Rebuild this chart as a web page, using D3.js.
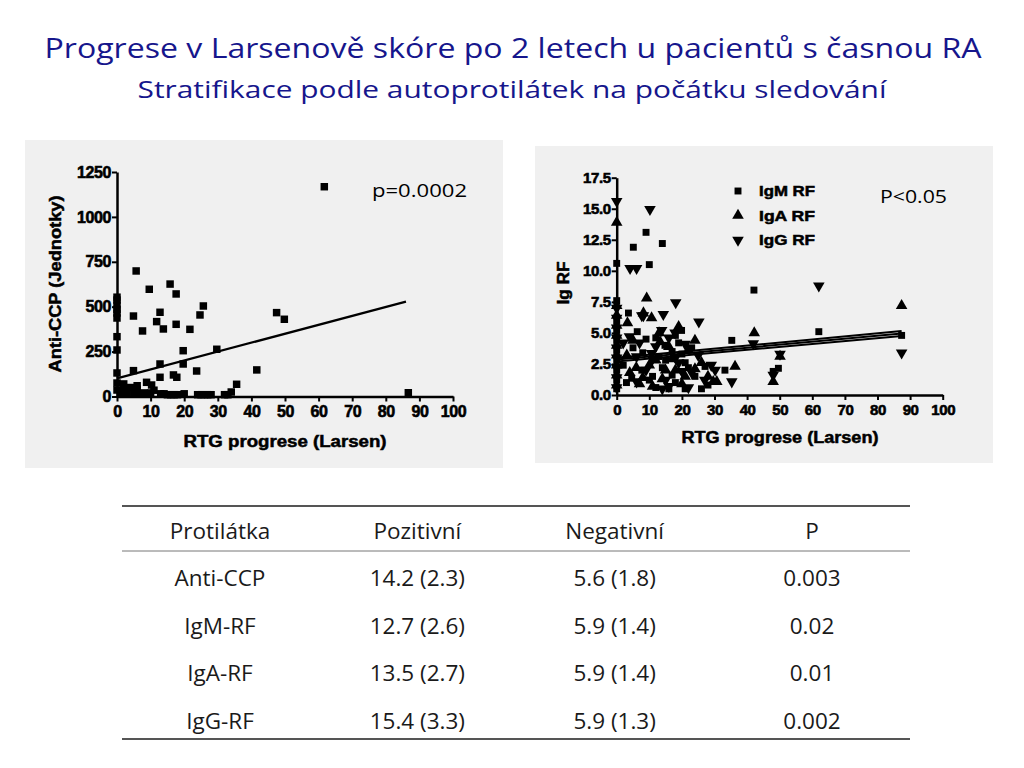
<!DOCTYPE html>
<html>
<head>
<meta charset="utf-8">
<script src="https://cdn.jsdelivr.net/npm/d3@7"></script>
<style>
  body { margin: 0; background: #fff; }
  svg text { font-family: "Liberation Sans", Arial, sans-serif; }
  .slide-text { font-family: "Open Sans", sans-serif; }
  .axis text { font-weight: bold; fill: #000; stroke: #000; stroke-width: 0.6; }
  .axis path, .axis line { stroke: #000; }
  .heavy { font-weight: bold; stroke: #000; stroke-width: 0.5; }
</style>
</head>
<body>
<svg id="chart" width="1024" height="768"></svg>
<script>
// titles
const titleMain = "Progrese v Larsenově skóre po 2 letech u pacientů s časnou RA";
const titleSub = "Stratifikace podle autoprotilátek na počátku sledování";

// left chart: Anti-CCP vs RTG progrese
const ccpPoints = [
  [0, 553], [0, 537], [0, 509], [0, 485], [0, 465], [0, 437], [0, 333], [0, 259], [0, 131], [0, 75], [0, 36],
  [5.7, 699], [9.6, 597], [15.8, 626], [17.6, 571], [25.7, 504], [24.7, 454], [4.9, 448], [12.8, 469],
  [11.8, 417], [13.8, 376], [7.6, 365], [17.6, 402], [21.7, 374], [19.7, 255], [29.7, 263], [4.9, 144],
  [12.8, 181], [19.7, 181], [12.8, 107], [16.8, 120], [17.8, 107], [23.7, 142], [8.8, 79], [10.3, 64],
  [35.6, 68], [41.6, 148], [47.5, 467], [49.8, 430], [61.7, 1168], [86.7, 21],
  [1, 20], [2, 45], [3, 20], [4, 50], [5, 20], [6, 40], [7, 15], [8, 20], [10, 20], [11, 35], [13, 15],
  [14, 15], [15, 10], [16, 10], [17, 10], [18, 10], [20, 15], [24, 10], [25, 10], [26, 10], [27, 10],
  [28, 10], [32, 10], [33, 10], [34, 25], [2, 70], [6, 60]
];
const ccpFit = [[0, 101], [86, 528]];
const ccpTicksX = [0, 10, 20, 30, 40, 50, 60, 70, 80, 90, 100];
const ccpTicksY = [0, 250, 500, 750, 1000, 1250];
const ccpLabelP = "p=0.0002";

// right chart: Ig RF vs RTG progrese
const igmPoints = [
  [0, 0.5], [0, 1.2], [0, 2], [0, 2.8], [0, 3.6], [0, 4.4], [0, 5.2], [0, 6], [0, 7.6], [0, 10.6],
  [9, 13.1], [5.1, 11.9], [14, 12.2], [10, 10.5], [42.1, 8.45], [3.6, 6.6], [6.3, 5.1], [7.7, 2.0],
  [4.6, 1.35], [19.9, 5.2], [35.3, 4.4], [14.8, 4.0], [27.1, 2.3], [33.2, 2.0], [49.6, 2.15], [48, 1.9],
  [62, 5.1], [87.4, 4.8], [2, 2.4], [3, 1.0], [11, 1.5], [12, 0.6], [15, 2.8], [16, 0.5], [18, 1.0],
  [20, 3.3], [21, 0.5], [22, 2.2], [24, 1.5], [19, 4.2], [17, 3.5], [13, 3.1], [26, 0.5], [8, 3.4], [10, 1.2],
  [5, 3.8], [9, 4.5], [14, 2.2], [17, 1.6], [23, 3.8], [28, 0.8], [18, 4.8], [21, 2.6], [12, 4.6]
];
const igaPoints = [
  [0, 0.8], [0, 1.6], [0, 2.4], [0, 3.2], [0, 4.0], [0, 4.8], [0, 5.6], [0, 6.4], [0, 7.2], [0, 13.9],
  [9.2, 7.8], [10.7, 6.2], [8.2, 6.6], [3.3, 5.8], [3.1, 3.2], [24, 4.4], [42.2, 5.0], [13.3, 4.3],
  [36.3, 2.3], [29.6, 1.07], [30.7, 1.07], [48, 1.07], [50.1, 3.1], [87.4, 7.2], [6, 2.2], [12, 2.8],
  [14, 1.3], [18, 2.0], [20, 0.9], [22, 3.6], [16, 3.9], [26, 2.6], [11, 0.7], [4, 1.8], [28, 1.5],
  [7, 0.9], [19, 5.5], [15, 2.0], [5, 4.4], [10, 2.4], [17, 2.9], [21, 1.5], [24, 2.1], [13, 5.0], [8, 1.4]
];
const iggPoints = [
  [0, 0.6], [0, 1.4], [0, 2.2], [0, 3.0], [0, 3.8], [0, 4.6], [0, 5.4], [0, 6.2], [0, 7.0], [0, 15.6],
  [10.2, 14.95], [4.1, 10.2], [6.1, 10.2], [18.1, 7.45], [14.3, 6.5], [8.2, 6.4], [7.7, 6.4], [3.9, 4.7],
  [13.8, 5.2], [6.1, 3.1], [6.1, 1.07], [17.9, 5.0], [25.2, 5.9], [41.9, 4.15], [10.7, 3.36], [30.2, 2.0],
  [35.3, 1.07], [27, 1.2], [48, 1.6], [50.1, 3.3], [62, 8.8], [87.4, 3.4], [12, 3.9], [15, 1.2],
  [19, 2.6], [21, 4.1], [23, 1.8], [9, 2.0], [16, 0.7], [25, 3.2], [2, 4.2], [11, 2.9], [14, 0.5],
  [18, 3.0], [22, 0.6], [20, 1.9], [29, 2.4], [7, 4.2], [16, 4.6]
];
const igmFit = [[0, 2.85], [87.4, 4.95]];
const igaFit = [[0, 3.0], [87.4, 5.15]];
const iggFit = [[0, 2.7], [87.4, 4.75]];
const igTicksX = [0, 10, 20, 30, 40, 50, 60, 70, 80, 90, 100];
const igTicksY = [0, 2.5, 5, 7.5, 10, 12.5, 15, 17.5];
const igLegend = ["IgM RF", "IgA RF", "IgG RF"];
const igLabelP = "P<0.05";

// table
const tableHeader = ["Protilátka", "Pozitivní", "Negativní", "P"];
const tableAntibody = ["Anti-CCP", "IgM-RF", "IgA-RF", "IgG-RF"];
const tablePositive = ["14.2 (2.3)", "12.7 (2.6)", "13.5 (2.7)", "15.4 (3.3)"];
const tableNegative = ["5.6 (1.8)", "5.9 (1.4)", "5.9 (1.4)", "5.9 (1.3)"];
const tableP = ["0.003", "0.02", "0.01", "0.002"];

const svg = d3.select("#chart");
const titleColor = "#16168c";

// title
svg.append("text").attr("class", "slide-text")
  .attr("x", 513).attr("y", 58)
  .attr("text-anchor", "middle")
  .attr("font-size", 27)
  .attr("textLength", 937).attr("lengthAdjust", "spacingAndGlyphs")
  .attr("fill", titleColor)
  .text(titleMain);

svg.append("text").attr("class", "slide-text")
  .attr("x", 512).attr("y", 98)
  .attr("text-anchor", "middle")
  .attr("font-size", 23)
  .attr("textLength", 749).attr("lengthAdjust", "spacingAndGlyphs")
  .attr("fill", titleColor)
  .text(titleSub);

// panels
svg.append("rect").attr("x", 25).attr("y", 140).attr("width", 478).attr("height", 328).attr("fill", "#f0f0f0");
svg.append("rect").attr("x", 535).attr("y", 146).attr("width", 458).attr("height", 317).attr("fill", "#f0f0f0");

function styleAxis(g, fontSize) {
  g.attr("class", "axis");
  g.select(".domain").attr("stroke-width", 2.5);
  g.selectAll(".tick line").attr("stroke-width", 2);
  g.selectAll(".tick text").attr("font-size", fontSize).attr("letter-spacing", -0.4);
}

// ---------- left chart ----------
const xL = d3.scaleLinear().domain([0, 100]).range([117, 453]);
const yL = d3.scaleLinear().domain([0, 1250]).range([396.5, 172]);

const xAxisL = svg.append("g")
  .attr("transform", `translate(0,${yL(0)})`)
  .call(d3.axisBottom(xL).tickValues(ccpTicksX).tickSize(5).tickSizeOuter(0).tickPadding(4));
styleAxis(xAxisL, 16);

const yAxisL = svg.append("g")
  .attr("transform", `translate(${xL(0)},0)`)
  .call(d3.axisLeft(yL).tickValues(ccpTicksY).tickFormat(d3.format("d")).tickSize(5).tickSizeOuter(0).tickPadding(1));
styleAxis(yAxisL, 16);

svg.append("text").attr("class", "heavy")
  .attr("x", 285).attr("y", 447)
  .attr("text-anchor", "middle")
  .attr("font-size", 16)
  .attr("textLength", 203).attr("lengthAdjust", "spacingAndGlyphs")
  .text("RTG progrese (Larsen)");

svg.append("text").attr("class", "heavy")
  .attr("transform", `translate(61,284) rotate(-90)`)
  .attr("text-anchor", "middle")
  .attr("font-size", 16)
  .attr("textLength", 177).attr("lengthAdjust", "spacingAndGlyphs")
  .text("Anti-CCP (Jednotky)");

const lineL = d3.line().x(d => xL(d[0])).y(d => yL(d[1]));
svg.append("path").datum(ccpFit)
  .attr("d", lineL).attr("fill", "none").attr("stroke", "#000").attr("stroke-width", 2.2);

const squareL = d3.symbol().type(d3.symbolSquare).size(56);
svg.append("g").selectAll("path").data(ccpPoints).join("path")
  .attr("d", squareL)
  .attr("transform", d => `translate(${xL(d[0])},${yL(d[1])})`)
  .attr("fill", "#000");

svg.append("text").attr("class", "slide-text")
  .attr("x", 372).attr("y", 197)
  .attr("font-size", 18)
  .attr("textLength", 95).attr("lengthAdjust", "spacingAndGlyphs")
  .text(ccpLabelP);

// ---------- right chart ----------
const xR = d3.scaleLinear().domain([0, 100]).range([616.7, 942.7]);
const yR = d3.scaleLinear().domain([0, 17.5]).range([395, 177.7]);

const xAxisR = svg.append("g")
  .attr("transform", `translate(0,${yR(0)})`)
  .call(d3.axisBottom(xR).tickValues(igTicksX).tickSize(5).tickSizeOuter(0).tickPadding(4));
styleAxis(xAxisR, 15);

const yAxisR = svg.append("g")
  .attr("transform", `translate(${xR(0)},0)`)
  .call(d3.axisLeft(yR).tickValues(igTicksY).tickFormat(d3.format(".1f")).tickSize(5).tickSizeOuter(0).tickPadding(1));
styleAxis(yAxisR, 15);

svg.append("text").attr("class", "heavy")
  .attr("x", 780).attr("y", 443)
  .attr("text-anchor", "middle")
  .attr("font-size", 16)
  .attr("textLength", 197).attr("lengthAdjust", "spacingAndGlyphs")
  .text("RTG progrese (Larsen)");

svg.append("text").attr("class", "heavy")
  .attr("transform", `translate(569,283) rotate(-90)`)
  .attr("text-anchor", "middle")
  .attr("font-size", 16)
  .attr("textLength", 43).attr("lengthAdjust", "spacingAndGlyphs")
  .text("Ig RF");

const lineR = d3.line().x(d => xR(d[0])).y(d => yR(d[1]));
[igmFit, igaFit, iggFit].forEach(fit => {
  svg.append("path").datum(fit)
    .attr("d", lineR).attr("fill", "none").attr("stroke", "#000").attr("stroke-width", 2);
});

const squareR = d3.symbol().type(d3.symbolSquare).size(48);
const triR = d3.symbol().type(d3.symbolTriangle).size(58);
const seriesR = [
  { pts: igmPoints, sym: squareR, rot: 0 },
  { pts: igaPoints, sym: triR, rot: 0 },
  { pts: iggPoints, sym: triR, rot: 180 }
];
seriesR.forEach(s => {
  svg.append("g").selectAll("path").data(s.pts).join("path")
    .attr("d", s.sym)
    .attr("transform", d => `translate(${xR(d[0])},${yR(d[1])}) rotate(${s.rot})`)
    .attr("fill", "#000");
});

// legend
const legendY = d3.scalePoint().domain(igLegend).range([191, 240]);
const legend = svg.append("g");
igLegend.forEach((name, i) => {
  legend.append("path")
    .attr("d", seriesR[i].sym)
    .attr("transform", `translate(738,${legendY(name)}) rotate(${seriesR[i].rot})`)
    .attr("fill", "#000");
  legend.append("text").attr("class", "heavy")
    .attr("x", 759).attr("y", legendY(name) + 5)
    .attr("font-size", 14)
    .attr("textLength", 56).attr("lengthAdjust", "spacingAndGlyphs")
    .text(name);
});

svg.append("text").attr("class", "slide-text")
  .attr("x", 880).attr("y", 203)
  .attr("font-size", 18.5)
  .attr("textLength", 67).attr("lengthAdjust", "spacingAndGlyphs")
  .text(igLabelP);

// ---------- table ----------
const colX = d3.scalePoint().domain(tableHeader).range([220, 812]);
const rowY = d3.scalePoint().domain(tableAntibody).range([586, 729]);
const table = svg.append("g").attr("fill", "#1a1a1a");

table.append("line").attr("x1", 122).attr("x2", 910).attr("y1", 506).attr("y2", 506)
  .attr("stroke", "#555").attr("stroke-width", 2);
table.append("line").attr("x1", 122).attr("x2", 910).attr("y1", 551).attr("y2", 551)
  .attr("stroke", "#777").attr("stroke-width", 1);
table.append("line").attr("x1", 122).attr("x2", 910).attr("y1", 739).attr("y2", 739)
  .attr("stroke", "#555").attr("stroke-width", 2);

tableHeader.forEach(h => {
  table.append("text").attr("class", "slide-text")
    .attr("x", colX(h)).attr("y", 539)
    .attr("text-anchor", "middle").attr("font-size", 22.5)
    .text(h);
});

const columns = [tableAntibody, tablePositive, tableNegative, tableP];
tableAntibody.forEach((ab, r) => {
  columns.forEach((col, c) => {
    table.append("text").attr("class", "slide-text")
      .attr("x", colX(tableHeader[c])).attr("y", rowY(ab))
      .attr("text-anchor", "middle").attr("font-size", 22.5)
      .text(col[r]);
  });
});
</script>
</body>
</html>
